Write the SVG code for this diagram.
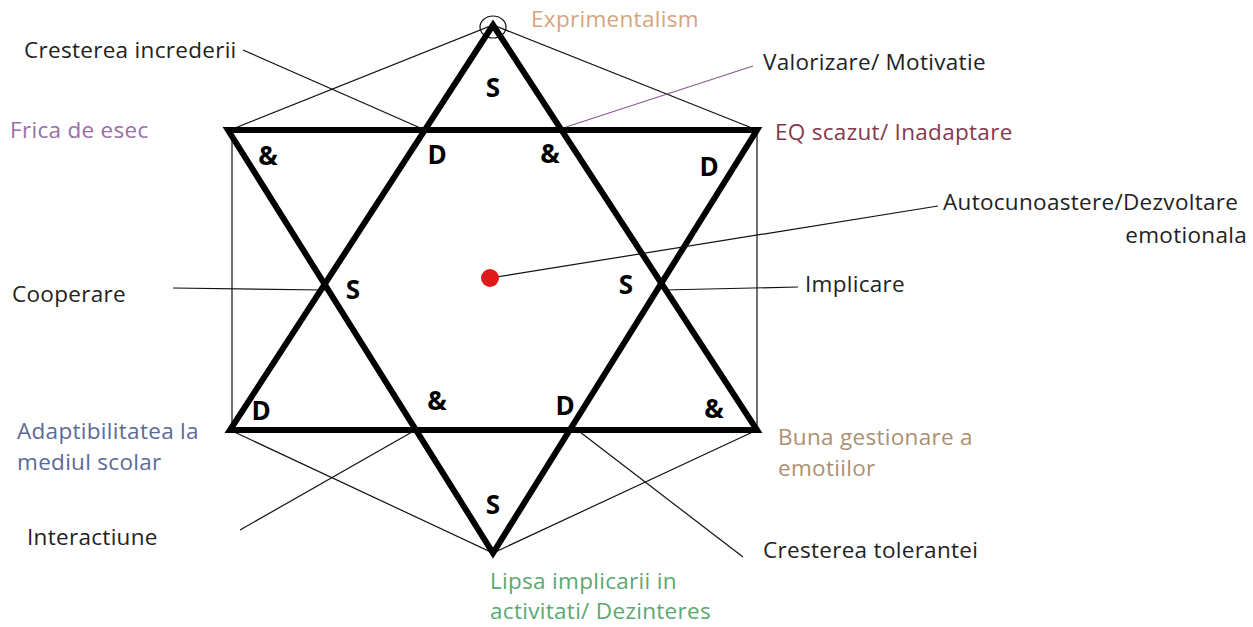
<svg xmlns="http://www.w3.org/2000/svg" width="1253" height="627" viewBox="0 0 1253 627">
<style>
.thick{fill:none;stroke:#000;stroke-width:6;stroke-linejoin:miter}
.thin{fill:none;stroke:#111;stroke-width:1.2}
.lbl{font-family:"Open Sans","Liberation Sans",sans-serif;font-size:22.5px;letter-spacing:0.3px;fill:#222}
.mk{font-family:"Open Sans","Liberation Sans",sans-serif;font-size:26px;font-weight:bold;fill:#000;text-anchor:middle}
</style>
<rect width="1253" height="627" fill="#fff"/>
<g id="outline">
<polyline class="thin" points="230,130 493,25 757,130"/>
<polyline class="thin" points="230,430 493,553 757,430"/>
<line class="thin" x1="232" y1="130" x2="232" y2="430"/>
<line class="thin" x1="757" y1="130" x2="757" y2="430"/>
<ellipse cx="493" cy="27" rx="13" ry="11" fill="none" stroke="#111" stroke-width="1.2"/>
</g>
<g id="star">
<polygon class="thick" points="493,25 757,430 230,430"/>
<polygon class="thick" points="228,130 757,130 493,553"/>
</g>
<g id="connectors">
<line class="thin" x1="243" y1="50" x2="425" y2="130"/>
<line x1="753" y1="66" x2="566" y2="127" stroke="#8a5a90" stroke-width="1.2"/>
<line class="thin" x1="173" y1="288" x2="325" y2="290"/>
<line class="thin" x1="663" y1="290" x2="798" y2="287"/>
<line class="thin" x1="490" y1="278" x2="938" y2="206"/>
<line class="thin" x1="240" y1="530" x2="412" y2="432"/>
<line class="thin" x1="580" y1="432" x2="743" y2="557"/>
</g>
<g id="center"><circle cx="490" cy="278" r="9" fill="#e01a1a"/></g>
<g id="marks">
<text class="mk" x="493" y="97">S</text>
<text class="mk" x="268" y="165">&amp;</text>
<text class="mk" x="437" y="164">D</text>
<text class="mk" x="550" y="163">&amp;</text>
<text class="mk" x="709" y="176">D</text>
<text class="mk" x="353" y="299">S</text>
<text class="mk" x="626" y="294">S</text>
<text class="mk" x="261" y="420">D</text>
<text class="mk" x="437" y="410">&amp;</text>
<text class="mk" x="565" y="415">D</text>
<text class="mk" x="714" y="418">&amp;</text>
<text class="mk" x="493" y="514">S</text>
</g>
<g id="labels">
<text class="lbl" x="531" y="27" style="fill:#d6a47c">Exprimentalism</text>
<text class="lbl" x="24" y="58">Cresterea increderii</text>
<text class="lbl" x="763" y="70">Valorizare/ Motivatie</text>
<text class="lbl" x="10" y="138" style="fill:#9a6ea6">Frica de esec</text>
<text class="lbl" x="775" y="140" style="fill:#86394a">EQ scazut/ Inadaptare</text>
<text class="lbl" x="943" y="210">Autocunoastere/Dezvoltare</text>
<text class="lbl" x="1247" y="243" text-anchor="end">emotionala</text>
<text class="lbl" x="12" y="302">Cooperare</text>
<text class="lbl" x="805" y="292">Implicare</text>
<text class="lbl" x="17" y="439" style="fill:#5b6a98">Adaptibilitatea la</text>
<text class="lbl" x="17" y="470" style="fill:#5b6a98">mediul scolar</text>
<text class="lbl" x="778" y="445" style="fill:#ad9070">Buna gestionare a</text>
<text class="lbl" x="778" y="476" style="fill:#ad9070">emotiilor</text>
<text class="lbl" x="27" y="545">Interactiune</text>
<text class="lbl" x="763" y="558">Cresterea tolerantei</text>
<text class="lbl" x="490" y="589" style="fill:#5aa872">Lipsa implicarii in</text>
<text class="lbl" x="490" y="619" style="fill:#5aa872">activitati/ Dezinteres</text>
</g>
</svg>
